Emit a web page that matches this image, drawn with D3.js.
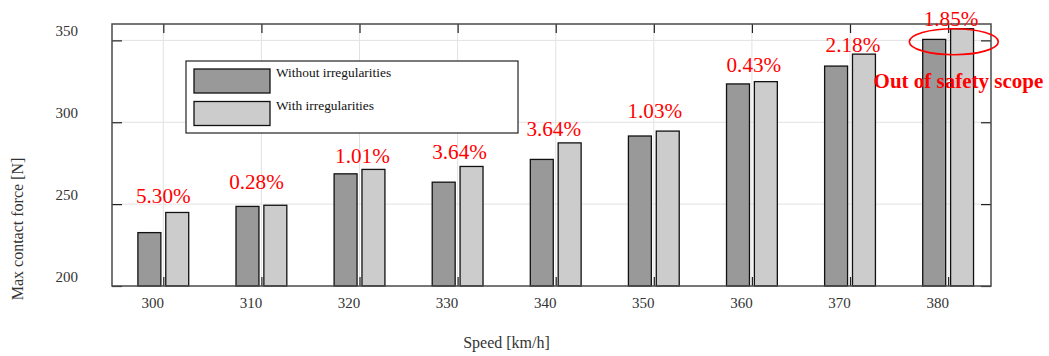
<!DOCTYPE html>
<html>
<head>
<meta charset="utf-8">
<script src="https://cdn.jsdelivr.net/npm/d3@7/dist/d3.min.js"></script>
<style>
  html, body { margin: 0; padding: 0; background: #fff; }
  svg { display: block; font-family: "Liberation Serif", "Times New Roman", serif; }
</style>
</head>
<body>
<svg id="chart" width="1049" height="356"></svg>
<script>
// Train speeds (km/h) and peak pantograph–catenary contact force (N)
const speeds = [300, 310, 320, 330, 340, 350, 360, 370, 380];
const forceWithout = [232.6, 248.6, 268.5, 263.4, 277.3, 291.6, 323.4, 334.3, 350.6];
const forceWith    = [244.9, 249.3, 271.2, 273.0, 287.4, 294.6, 324.8, 341.6, 357.1];

// Relative increase annotations and where each one sits (data units)
const pctLabels = ["5.30%", "0.28%", "1.01%", "3.64%", "3.64%", "1.03%", "0.43%", "2.18%", "1.85%"];
const pctLabelX = [300.0, 309.5, 320.3, 330.2, 339.8, 350.1, 360.2, 370.3, 380.3];
const pctLabelY = [250.6, 259.1, 275.0, 277.4, 291.5, 302.3, 330.7, 342.7, 358.7];

const yTicks = [200, 250, 300, 350];
const seriesNames = ["Without irregularities", "With irregularities"];
const seriesColors = ["#999999", "#cccccc"];

const svg = d3.select("#chart");
const frame = { left: 112, right: 991, top: 24, bottom: 286 };

const x = d3.scaleLinear().domain([294.77, 384.37]).range([frame.left, frame.right]);
const y = d3.scaleLinear().domain([200, 360]).range([frame.bottom, frame.top]);

const barOffset = 1.42;  // km/h offset of each bar from its speed tick
const barWidth = 2.34;   // km/h

// grid
const grid = svg.append("g").attr("stroke", "#e2e2e2").attr("stroke-width", 1);
grid.selectAll("line.v").data(speeds).join("line")
  .attr("class", "v")
  .attr("x1", d => x(d)).attr("x2", d => x(d))
  .attr("y1", frame.top).attr("y2", frame.bottom);
grid.selectAll("line.h").data(yTicks.filter(t => t > 200)).join("line")
  .attr("class", "h")
  .attr("x1", frame.left).attr("x2", frame.right)
  .attr("y1", d => y(d)).attr("y2", d => y(d));

// bars
const groups = [forceWithout, forceWith];
groups.forEach((vals, si) => {
  const off = si === 0 ? -barOffset : barOffset;
  svg.append("g").selectAll("rect").data(vals).join("rect")
    .attr("x", (d, i) => x(speeds[i] + off - barWidth / 2))
    .attr("width", x(barWidth) - x(0))
    .attr("y", d => y(d))
    .attr("height", d => y(200) - y(d))
    .attr("fill", seriesColors[si])
    .attr("stroke", "#111")
    .attr("stroke-width", 1.3);
});

// axes with inward ticks
const tickColor = "#222";
const bottomAxis = svg.append("g").attr("transform", `translate(0,${frame.bottom})`)
  .call(d3.axisBottom(x).tickValues(speeds).tickSizeInner(-9).tickSizeOuter(0).tickPadding(0));
bottomAxis.select(".domain").remove();
bottomAxis.selectAll(".tick line").attr("stroke", tickColor).attr("stroke-width", 1.2);
bottomAxis.selectAll(".tick text")
  .attr("x", -11).attr("y", 22).attr("dy", null)
  .attr("fill", "#333").attr("font-size", 15)
  .attr("font-family", "Liberation Serif");

const topAxis = svg.append("g").attr("transform", `translate(0,${frame.top})`)
  .call(d3.axisTop(x).tickValues(speeds).tickSizeInner(-9).tickSizeOuter(0).tickFormat(""));
topAxis.select(".domain").remove();
topAxis.selectAll(".tick line").attr("stroke", tickColor).attr("stroke-width", 1.2);

const leftAxis = svg.append("g").attr("transform", `translate(${frame.left},0)`)
  .call(d3.axisLeft(y).tickValues(yTicks).tickSizeInner(-10).tickSizeOuter(0).tickPadding(0));
leftAxis.select(".domain").remove();
leftAxis.selectAll(".tick line").attr("stroke", tickColor).attr("stroke-width", 1.2);
leftAxis.selectAll(".tick text")
  .attr("x", -34).attr("dy", "-0.3em")
  .attr("fill", "#333").attr("font-size", 15)
  .attr("font-family", "Liberation Serif");

const rightAxis = svg.append("g").attr("transform", `translate(${frame.right},0)`)
  .call(d3.axisRight(y).tickValues(yTicks).tickSizeInner(-10).tickSizeOuter(0).tickFormat(""));
rightAxis.select(".domain").remove();
rightAxis.selectAll(".tick line").attr("stroke", tickColor).attr("stroke-width", 1.2);

// plot frame
svg.append("rect")
  .attr("x", frame.left).attr("y", frame.top)
  .attr("width", frame.right - frame.left).attr("height", frame.bottom - frame.top)
  .attr("fill", "none").attr("stroke", "#4a4a4a").attr("stroke-width", 1.5);

// axis titles
svg.append("text")
  .attr("x", (frame.left + frame.right) / 2 - 45).attr("y", 348)
  .attr("text-anchor", "middle").attr("font-size", 16).attr("fill", "#333")
  .text("Speed [km/h]");
svg.append("text")
  .attr("transform", "translate(23,229) rotate(-90)")
  .attr("text-anchor", "middle").attr("font-size", 16).attr("fill", "#333")
  .text("Max contact force [N]");

// legend
const legend = svg.append("g");
legend.append("rect")
  .attr("x", 186).attr("y", 61).attr("width", 332).attr("height", 72)
  .attr("fill", "#fff").attr("stroke", "#222").attr("stroke-width", 1.2);
seriesNames.forEach((name, i) => {
  legend.append("rect")
    .attr("x", 194).attr("y", 69 + i * 32.5).attr("width", 76).attr("height", 24)
    .attr("fill", seriesColors[i]).attr("stroke", "#111").attr("stroke-width", 1.3);
  legend.append("text")
    .attr("x", 276).attr("y", 77 + i * 32.5)
    .attr("font-size", 13.4).attr("fill", "#111")
    .text(name);
});

// percentage increase labels
svg.append("g").selectAll("text").data(pctLabels).join("text")
  .attr("x", (d, i) => x(pctLabelX[i]))
  .attr("y", (d, i) => y(pctLabelY[i]))
  .attr("text-anchor", "middle")
  .attr("font-size", 21.2)
  .attr("fill", "#ff0000")
  .text(d => d);

// highlight of the 380 km/h group
svg.append("ellipse")
  .attr("cx", x(380.58)).attr("cy", y(349.2))
  .attr("rx", 44.5).attr("ry", 13)
  .attr("fill", "none").attr("stroke", "#ff0000").attr("stroke-width", 1.6);
svg.append("text")
  .attr("x", x(372.4)).attr("y", y(321.2))
  .attr("font-size", 21).attr("font-weight", "bold").attr("fill", "#ff0000")
  .text("Out of safety scope");
</script>
</body>
</html>
